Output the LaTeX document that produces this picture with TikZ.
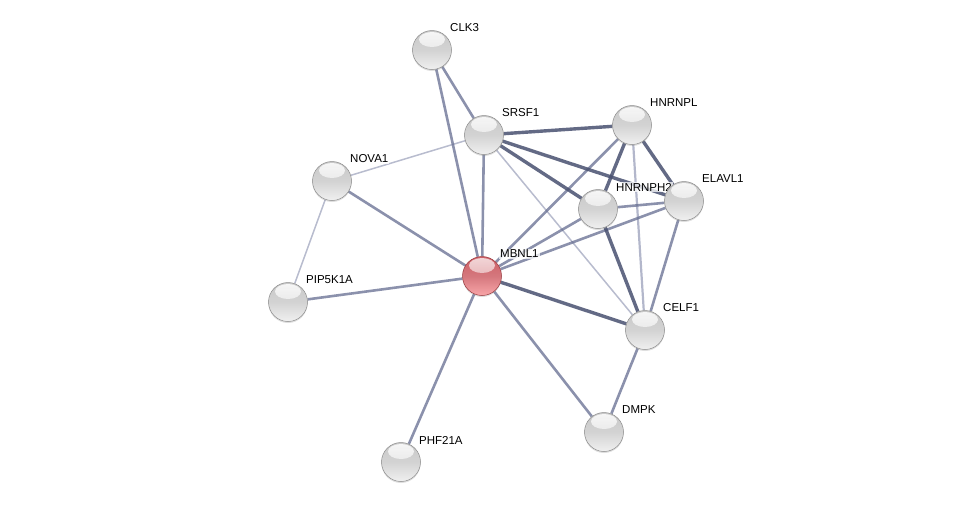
\documentclass[tikz,border=0pt]{standalone}
\usepackage{fontspec}
\setmainfont{Liberation Sans}
\usetikzlibrary{shadows}
\pgfdeclarelayer{edges}
\pgfdeclarelayer{labs}
\pgfsetlayers{edges,labs,main}
\definecolor{edk}{RGB}{72,80,112}
\definecolor{emd}{RGB}{100,108,144}
\definecolor{elt}{RGB}{160,165,190}
\definecolor{ballA}{RGB}{240,240,240}
\definecolor{ballB}{RGB}{200,200,200}
\definecolor{ballC}{RGB}{140,140,140}
\definecolor{redA}{RGB}{248,165,168}
\definecolor{redB}{RGB}{205,95,102}
\definecolor{redC}{RGB}{150,55,60}
\tikzset{
  ball/.style={circle, minimum size=39pt, inner sep=0pt,
    draw=ballC, line width=0.5pt,
    top color=ballB, bottom color=ballA, middle color=ballB!80!white,
    drop shadow={opacity=0.25, shadow xshift=0pt, shadow yshift=-1.5pt},
    path picture={\shade[top color=white, bottom color=white!40!ballB, opacity=0.85] ([yshift=-9pt]path picture bounding box.north) ellipse (13pt and 7.5pt);}},
  redball/.style={ball, draw=redC, top color=redB, bottom color=redA, middle color=redB!85!white,
    path picture={\shade[top color=white, bottom color=redB!60!white, opacity=0.75] ([yshift=-9pt]path picture bounding box.north) ellipse (13pt and 7.5pt);}},
  lab/.style={anchor=west, font=\fontsize{11.5}{13}\selectfont, fill=white, fill opacity=0.75, text opacity=1, inner sep=1pt},
  ethick/.style={draw=edk, line width=3.4pt, opacity=0.85},
  emed/.style={draw=emd, line width=2.6pt, opacity=0.75},
  ethin/.style={draw=elt, line width=1.5pt, opacity=0.75},
  elight/.style={draw=elt, line width=2.2pt, opacity=0.8},
}
\begin{document}
\begin{tikzpicture}[x=1pt,y=-1pt]
\useasboundingbox (0,0) rectangle (976,507);
\node[ball] (CLK3) at (432,50) {};
\node[ball] (SRSF1) at (484,135) {};
\node[ball] (HNRNPL) at (632,125) {};
\node[ball] (NOVA1) at (332,181) {};
\node[ball] (HNRNPH2) at (598,209) {};
\node[ball] (ELAVL1) at (684,201) {};
\node[redball] (MBNL1) at (482,276) {};
\node[ball] (PIP5K1A) at (288,302) {};
\node[ball] (CELF1) at (645,330) {};
\node[ball] (DMPK) at (604,432) {};
\node[ball] (PHF21A) at (401,462) {};
\begin{pgfonlayer}{edges}
\draw[ethin] (SRSF1) -- (NOVA1);
\draw[ethin] (SRSF1) -- (CELF1);
\draw[ethin] (NOVA1) -- (PIP5K1A);
\draw[elight] (HNRNPL) -- (CELF1);
\draw[emed] (CLK3) -- (SRSF1);
\draw[emed] (CLK3) -- (MBNL1);
\draw[emed] (SRSF1) -- (MBNL1);
\draw[emed] (HNRNPL) -- (MBNL1);
\draw[emed] (HNRNPH2) -- (MBNL1);
\draw[emed] (ELAVL1) -- (MBNL1);
\draw[emed] (ELAVL1) -- (CELF1);
\draw[emed] (HNRNPH2) -- (ELAVL1);
\draw[emed] (NOVA1) -- (MBNL1);
\draw[emed] (PIP5K1A) -- (MBNL1);
\draw[emed] (MBNL1) -- (DMPK);
\draw[emed] (MBNL1) -- (PHF21A);
\draw[emed] (DMPK) -- (CELF1);
\draw[ethick] (SRSF1) -- (ELAVL1);
\draw[ethick] (SRSF1) -- (HNRNPL);
\draw[ethick] (SRSF1) -- (HNRNPH2);
\draw[ethick] (HNRNPL) -- (HNRNPH2);
\draw[ethick] (HNRNPL) -- (ELAVL1);
\draw[ethick] (HNRNPH2) -- (CELF1);
\draw[ethick] (MBNL1) -- (CELF1);
\end{pgfonlayer}
\begin{pgfonlayer}{labs}
\node[lab] (lCLK3) at ([xshift=17pt,yshift=22pt]CLK3.center) {CLK3};
\node[lab] (lSRSF1) at ([xshift=17pt,yshift=22pt]SRSF1.center) {SRSF1};
\node[lab] (lHNRNPL) at ([xshift=17pt,yshift=22pt]HNRNPL.center) {HNRNPL};
\node[lab] (lNOVA1) at ([xshift=17pt,yshift=22pt]NOVA1.center) {NOVA1};
\node[lab] (lHNRNPH2) at ([xshift=17pt,yshift=22pt]HNRNPH2.center) {HNRNPH2};
\node[lab] (lELAVL1) at ([xshift=17pt,yshift=22pt]ELAVL1.center) {ELAVL1};
\node[lab] (lMBNL1) at ([xshift=17pt,yshift=22pt]MBNL1.center) {MBNL1};
\node[lab] (lPIP5K1A) at ([xshift=17pt,yshift=22pt]PIP5K1A.center) {PIP5K1A};
\node[lab] (lCELF1) at ([xshift=17pt,yshift=22pt]CELF1.center) {CELF1};
\node[lab] (lDMPK) at ([xshift=17pt,yshift=22pt]DMPK.center) {DMPK};
\node[lab] (lPHF21A) at ([xshift=17pt,yshift=22pt]PHF21A.center) {PHF21A};
\end{pgfonlayer}
\end{tikzpicture}
\end{document}
